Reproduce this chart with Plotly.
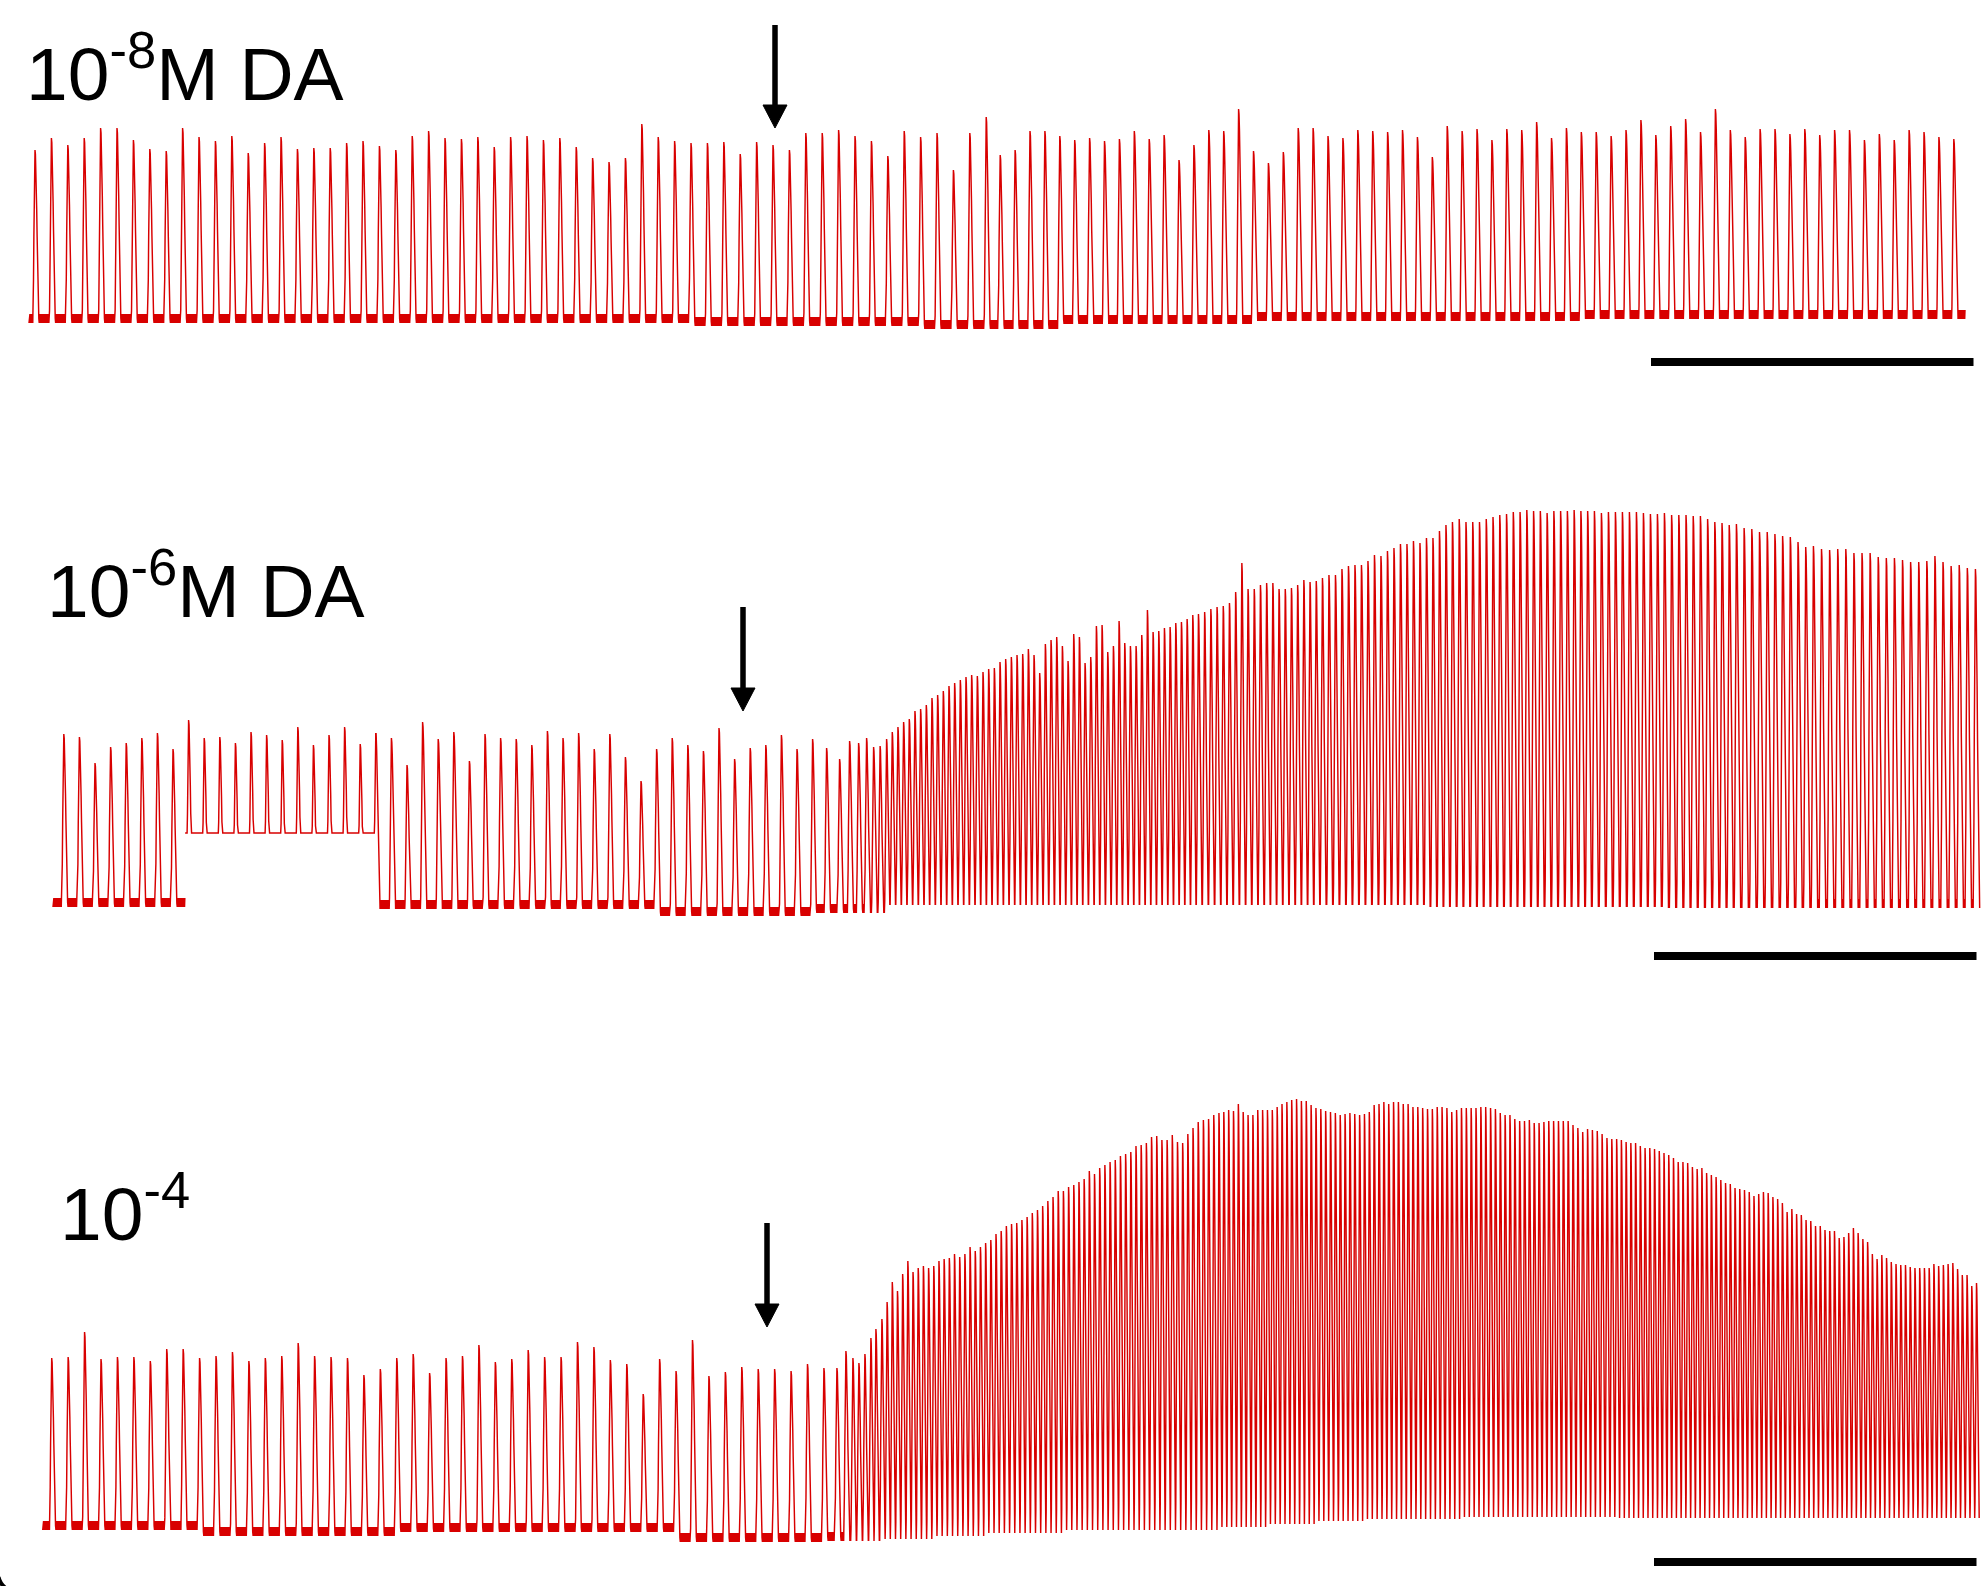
import numpy as np
import plotly.graph_objects as go

RED = "#d80000"

# ----------------------------------------------------------------- data
# time in s, tension in g (0 = resting level of each trace)

# --- 10^-8 M DA
top_t0 = 7.0
top_rr_runs = [(58, 3.28), (1, 2.80), (64, 2.98)]
top_span = (5.8, 393.0)
top_peak_a = [1.75, 1.87, 1.80, 1.87, 1.97, 1.97, 1.85, 1.76, 1.74, 1.97,
              1.88, 1.84, 1.89, 1.72, 1.82, 1.88, 1.76, 1.77, 1.77, 1.82,
              1.84, 1.79, 1.75, 1.89, 1.94, 1.87, 1.86, 1.88, 1.78, 1.88,
              1.89, 1.85, 1.87, 1.78, 1.67, 1.63, 1.67, 2.01, 1.88, 1.84,
              1.82, 1.82, 1.83, 1.71, 1.83, 1.80, 1.75, 1.92, 1.92, 1.95,
              1.89, 1.84, 1.69, 1.94, 1.88, 1.92, 1.55, 1.92, 2.08]
top_peak_b = [1.70, 1.75, 1.94, 1.94, 1.89, 1.85, 1.87, 1.84, 1.86, 1.94,
              1.86, 1.90, 1.65, 1.80, 1.95, 1.94, 2.16, 1.74, 1.62, 1.73,
              1.97, 1.97, 1.89, 1.87, 1.95, 1.94, 1.93, 1.95, 1.88, 1.68,
              1.99, 1.94, 1.96, 1.85, 1.96, 1.95, 2.03, 1.87, 1.97, 1.93,
              1.93, 1.89, 1.95, 2.05, 1.90, 1.99, 2.06, 1.93, 2.16, 1.95,
              1.88, 1.96, 1.96, 1.91, 1.96, 1.90, 1.95, 1.95, 1.85, 1.91,
              1.85, 1.95, 1.93, 1.88, 1.86]
top_base_runs = [(41, 0.02), (14, -0.01), (9, -0.04), (13, 0.01), (22, 0.04), (25, 0.06)]

# --- 10^-6 M DA
mid_t0 = 12.76
mid_rr_runs = [(48, 3.12), (1, 2.8), (1, 2.6), (1, 2.0), (1, 1.8), (1, 1.6), (1, 1.4),
               (2, 1.3), (55, 1.134), (20, 1.24), (20, 1.30), (21, 1.352),
               (10, 1.40), (10, 1.44), (10, 1.54), (20, 1.62)]
mid_span = (10.6, 395.5)
mid_peak_pre = [1.71, 1.68, 1.42, 1.58, 1.62, 1.67, 1.72, 1.56,
                1.85, 1.67, 1.68, 1.62, 1.73, 1.70, 1.65, 1.78, 1.60, 1.70, 1.78, 1.61,
                1.72, 1.67, 1.40, 1.83, 1.66, 1.73, 1.44, 1.71, 1.67, 1.66,
                1.60, 1.74, 1.67, 1.72, 1.56, 1.71, 1.48, 1.24, 1.56, 1.67,
                1.60, 1.54, 1.77, 1.46, 1.57, 1.60, 1.70, 1.56, 1.66]
mid_peak_trans = [1.57, 1.46, 1.64, 1.62, 1.67, 1.58, 1.59, 1.66]
mid_peak_d1 = [1.73, 1.78, 1.83, 1.86, 1.94, 1.96, 2.00, 2.07, 2.10, 2.14,
               2.19, 2.22, 2.25, 2.28, 2.30, 2.29, 2.33, 2.36, 2.37, 2.43,
               2.46, 2.48, 2.50, 2.51, 2.56, 2.50, 2.32, 2.61, 2.65, 2.68,
               2.59, 2.44, 2.71, 2.68, 2.42, 2.48, 2.79, 2.80, 2.53, 2.59,
               2.84, 2.62, 2.59, 2.59, 2.70, 2.95, 2.73, 2.74, 2.77, 2.78,
               2.82, 2.83, 2.86, 2.90, 2.91]
mid_peak_d2 = [2.93, 2.96, 2.98, 2.99, 3.02, 3.13, 3.42, 3.16, 3.16, 3.20,
               3.22, 3.22, 3.16, 3.16, 3.17, 3.20, 3.25, 3.23, 3.24, 3.27,
               3.30, 3.30, 3.36, 3.39, 3.40, 3.40, 3.44, 3.50, 3.49, 3.54,
               3.57, 3.61, 3.61, 3.64, 3.62, 3.67, 3.67, 3.74, 3.80, 3.83,
               3.86, 3.83, 3.83, 3.83, 3.86, 3.88, 3.90, 3.91, 3.93, 3.93,
               3.95, 3.94, 3.94, 3.92, 3.94, 3.94, 3.94, 3.95, 3.94, 3.94,
               3.94]
mid_peak_d3 = [3.92, 3.93, 3.93, 3.93, 3.93, 3.93, 3.92, 3.91, 3.91, 3.92,
               3.90, 3.90, 3.90, 3.89, 3.89, 3.86, 3.83, 3.82, 3.80, 3.81,
               3.77, 3.76, 3.73, 3.73, 3.71, 3.69, 3.68, 3.63, 3.58, 3.59,
               3.56, 3.55, 3.56, 3.56, 3.52, 3.52, 3.52, 3.48, 3.47, 3.47,
               3.45, 3.43, 3.43, 3.44, 3.49, 3.43, 3.39, 3.40, 3.37, 3.36]
mid_base_runs = [(20, -0.02), (19, -0.04), (10, -0.11), (8, -0.08), (91, 0.0),
                 (35, -0.02), (40, -0.03)]
mid_offset_start = 37.0        # section recorded with shifted pen
mid_offset_end_beat = 20
mid_offset_floor = 0.72

# --- 10^-4 M DA
bot_t0 = 10.34
bot_rr_runs = [(47, 3.286), (1, 2.6), (1, 1.8), (1, 1.4), (3, 1.2), (1, 1.0), (1, 1.2),
               (65, 1.037), (82, 0.970), (76, 0.947)]
bot_span = (8.54, 395.8)
bot_peak_pre = [1.72, 1.73, 1.98, 1.71, 1.73, 1.73, 1.69, 1.81, 1.81, 1.72,
                1.74, 1.78, 1.69, 1.72, 1.74, 1.87, 1.74, 1.73, 1.72, 1.55,
                1.61, 1.72, 1.76, 1.57, 1.72, 1.74, 1.85, 1.68, 1.71, 1.80,
                1.73, 1.73, 1.88, 1.83, 1.70, 1.66, 1.36, 1.71, 1.59, 1.90,
                1.54, 1.58, 1.63, 1.61, 1.61, 1.59, 1.66, 1.62]
bot_peak_trans = [1.62, 1.79, 1.72, 1.67, 1.76, 1.92, 2.01, 2.11]
bot_peak_d1 = [2.28, 2.48, 2.39, 2.56, 2.69, 2.58, 2.62, 2.64, 2.62, 2.64,
               2.69, 2.71, 2.72, 2.76, 2.73, 2.76, 2.83, 2.79, 2.83, 2.87,
               2.90, 2.96, 2.99, 3.04, 3.06, 3.07, 3.10, 3.13, 3.17, 3.20,
               3.24, 3.29, 3.33, 3.39, 3.39, 3.43, 3.45, 3.48, 3.51, 3.59,
               3.56, 3.62, 3.65, 3.68, 3.70, 3.74, 3.76, 3.78, 3.84, 3.85,
               3.87, 3.93, 3.94, 3.90, 3.90, 3.95, 3.88, 3.87, 3.96, 4.02,
               4.08, 4.10, 4.11, 4.15, 4.17]
bot_peak_d2 = [4.18, 4.20, 4.19, 4.26, 4.18, 4.15, 4.15, 4.20, 4.20, 4.20,
               4.20, 4.23, 4.26, 4.28, 4.30, 4.31, 4.29, 4.29, 4.25, 4.22,
               4.21, 4.19, 4.18, 4.17, 4.15, 4.16, 4.17, 4.16, 4.15, 4.16,
               4.18, 4.25, 4.26, 4.28, 4.26, 4.28, 4.28, 4.26, 4.26, 4.23,
               4.23, 4.22, 4.21, 4.21, 4.23, 4.23, 4.22, 4.18, 4.20, 4.22,
               4.22, 4.22, 4.22, 4.23, 4.23, 4.22, 4.21, 4.17, 4.15, 4.15,
               4.11, 4.09, 4.09, 4.10, 4.07, 4.07, 4.08, 4.09, 4.09, 4.09,
               4.09, 4.09, 4.05, 4.02, 3.98, 4.01, 4.00, 3.99, 3.96, 3.92,
               3.91, 3.91]
bot_peak_d3 = [3.90, 3.88, 3.87, 3.87, 3.84, 3.82, 3.82, 3.81, 3.79, 3.77,
               3.75, 3.72, 3.68, 3.68, 3.67, 3.63, 3.61, 3.62, 3.57, 3.55,
               3.53, 3.50, 3.47, 3.46, 3.42, 3.41, 3.40, 3.38, 3.34, 3.36,
               3.38, 3.37, 3.33, 3.31, 3.27, 3.18, 3.21, 3.16, 3.15, 3.10,
               3.09, 3.04, 3.04, 3.00, 2.99, 2.99, 2.92, 2.93, 2.97, 3.02,
               2.97, 2.91, 2.88, 2.76, 2.71, 2.75, 2.72, 2.68, 2.66, 2.65,
               2.65, 2.63, 2.62, 2.62, 2.62, 2.62, 2.66, 2.64, 2.65, 2.66,
               2.67, 2.61, 2.55, 2.55, 2.44, 2.47]
bot_base_runs = [(10, 0.0), (12, -0.06), (17, -0.02), (9, -0.12), (8, -0.11), (10, -0.09),
                 (10, -0.06), (15, -0.03), (30, 0.0), (10, 0.03), (10, 0.06), (10, 0.09),
                 (20, 0.11), (32, 0.13), (76, 0.12)]

labels = ["10<sup>-8</sup>M DA", "10<sup>-6</sup>M DA", "10<sup>-4</sup>"]
drug_added_s = [155.0, 148.6, 153.4]
scale_bar_s = 60.0


# ----------------------------------------------------------------- helpers
def expand(runs):
    out = []
    for n, v in runs:
        out += [v] * n
    return out


def beat_times(t0, rr_runs):
    return t0 + np.concatenate([[0.0], np.cumsum(expand(rr_runs))])


def build(tp, peak, base, t_start, t_end, band=0.09, r0=0.45, f0=0.85, step=0.06):
    n = len(tp)
    xs, ys = [], []

    def band_seg(ta, tb, b):
        if tb <= ta:
            return
        m = max(int(round((tb - ta) / step)), 1)
        tt = np.linspace(ta, tb, m + 1)
        yy = b + band * (np.arange(m + 1) % 2)
        xs.extend(tt.tolist())
        ys.extend(yy.tolist())

    rises, falls = [], []
    for i in range(n):
        rr_prev = tp[i] - tp[i - 1] if i > 0 else tp[1] - tp[0]
        rr_next = tp[i + 1] - tp[i] if i < n - 1 else rr_prev
        rises.append(min(r0, 0.38 * rr_prev))
        falls.append(min(f0, 0.57 * rr_next))

    band_seg(t_start, tp[0] - rises[0], base[0])
    u = np.linspace(0, 1, 7)
    v = np.linspace(0, 1, 11)[1:]
    for i in range(n):
        b0 = base[i]
        b1 = base[i + 1] if i < n - 1 else base[i]
        xr = tp[i] - rises[i] * (1 - u)
        yr = b0 + (peak[i] - b0) * (1 - np.cos(np.pi * u)) / 2
        xf = tp[i] + falls[i] * v
        yf = b1 + (peak[i] - b1) * (1 + np.cos(np.pi * v)) / 2
        xs.extend(xr.tolist()); ys.extend(yr.tolist())
        xs.extend(xf.tolist()); ys.extend(yf.tolist())
        nxt = tp[i + 1] - rises[i + 1] if i < n - 1 else t_end
        band_seg(tp[i] + falls[i], nxt, b1)
    return np.array(xs), np.array(ys)


top_tp = beat_times(top_t0, top_rr_runs)
top_peak = top_peak_a + top_peak_b
top_base = expand(top_base_runs)
mid_tp = beat_times(mid_t0, mid_rr_runs)
mid_peak = mid_peak_pre + mid_peak_trans + mid_peak_d1 + mid_peak_d2 + mid_peak_d3
mid_base = expand(mid_base_runs)
bot_tp = beat_times(bot_t0, bot_rr_runs)
bot_peak = bot_peak_pre + bot_peak_trans + bot_peak_d1 + bot_peak_d2 + bot_peak_d3
bot_base = expand(bot_base_runs)

for a, b, c in [(top_tp, top_peak, top_base), (mid_tp, mid_peak, mid_base),
                (bot_tp, bot_peak, bot_base)]:
    assert len(a) == len(b) == len(c), (len(a), len(b), len(c))

# ----------------------------------------------------------------- figure
W, H = 1986, 1586
PX_PER_S = 5.0
fig = go.Figure()
line = dict(color=RED, width=1.45)

tx, ty = build(top_tp, top_peak, top_base, *top_span)
fig.add_trace(go.Scatter(x=tx, y=ty, mode="lines", line=line, yaxis="y", hoverinfo="skip"))

mx, my = build(mid_tp, mid_peak, mid_base, *mid_span)
t_end_off = mid_tp[mid_offset_end_beat]
pre = mx < mid_offset_start
off = (mx >= mid_offset_start) & (mx <= t_end_off + 1e-9)
post = mx >= t_end_off - 1e-9
fig.add_trace(go.Scatter(x=mx[pre], y=my[pre], mode="lines", line=line, yaxis="y2", hoverinfo="skip"))
fig.add_trace(go.Scatter(x=mx[off], y=np.maximum(my[off], mid_offset_floor), mode="lines",
                         line=line, yaxis="y2", hoverinfo="skip"))
fig.add_trace(go.Scatter(x=mx[post], y=my[post], mode="lines", line=line, yaxis="y2", hoverinfo="skip"))

bx, by = build(bot_tp, bot_peak, bot_base, *bot_span)
fig.add_trace(go.Scatter(x=bx, y=by, mode="lines", line=line, yaxis="y3", hoverinfo="skip"))

d_top = 400 / H
d_mid = 1000 / H
axis_off = dict(visible=False, fixedrange=True)
fig.update_layout(
    width=W, height=H, autosize=False,
    margin=dict(l=0, r=0, t=0, b=0, pad=0),
    paper_bgcolor="white", plot_bgcolor="white", showlegend=False,
    xaxis=dict(domain=[0, 1], range=[0, W / PX_PER_S], **axis_off),
    yaxis=dict(domain=[1 - d_top, 1], range=[-0.75, 3.25], anchor="x", **axis_off),
    yaxis2=dict(domain=[1 - d_mid, 1 - d_top], range=[-0.95, 5.05], anchor="x", **axis_off),
    yaxis3=dict(domain=[0, 1 - d_mid], range=[-0.56, 5.30], anchor="x", **axis_off),
)

font = dict(family="Liberation Sans, Arial, sans-serif", size=75, color="black")
label_pos = [(4.85, 2.57, "y"), (8.9, 3.20, "y2"), (11.6, 3.22, "y3")]
for (lx, ly, yr), txt in zip(label_pos, labels):
    fig.add_annotation(x=lx, y=ly, xref="x", yref=yr, text=txt, showarrow=False,
                       xanchor="left", yanchor="middle", font=font)

# arrows marking drug addition (shaft + filled head)
arrow_y = [(1.97, 3.00, "y"), (1.94, 2.98, "y2"), (2.03, 3.07, "y3")]
head_len, head_half = 0.23, 2.4
for ax_t, (y_tip, y_tail, yr) in zip(drug_added_s, arrow_y):
    fig.add_shape(type="line", x0=ax_t, x1=ax_t, y0=y_tail, y1=y_tip + head_len * 0.8,
                  xref="x", yref=yr, line=dict(color="black", width=5.5))
    fig.add_shape(type="path",
                  path=(f"M {ax_t},{y_tip} L {ax_t - head_half},{y_tip + head_len} "
                        f"L {ax_t + head_half},{y_tip + head_len} Z"),
                  xref="x", yref=yr, fillcolor="black", line=dict(color="black", width=1))

bars = [(330.2, -0.37, "y"), (330.8, -0.51, "y2"), (330.8, -0.32, "y3")]
for x0, yb, yr in bars:
    fig.add_shape(type="line", x0=x0, x1=x0 + scale_bar_s * 1.075, y0=yb, y1=yb,
                  xref="x", yref=yr, line=dict(color="black", width=8))

# small frame corner visible at the bottom-left edge
fig.add_shape(type="path", path="M -0.3,-0.47 Q 0.1,-0.56 1.8,-0.60",
              xref="x", yref="y3", line=dict(color="black", width=4))

fig.write_html("out.html",
               config={"displayModeBar": False, "staticPlot": True},
               post_script="document.body.style.margin='0px';"
                           "document.body.style.overflow='hidden';")
